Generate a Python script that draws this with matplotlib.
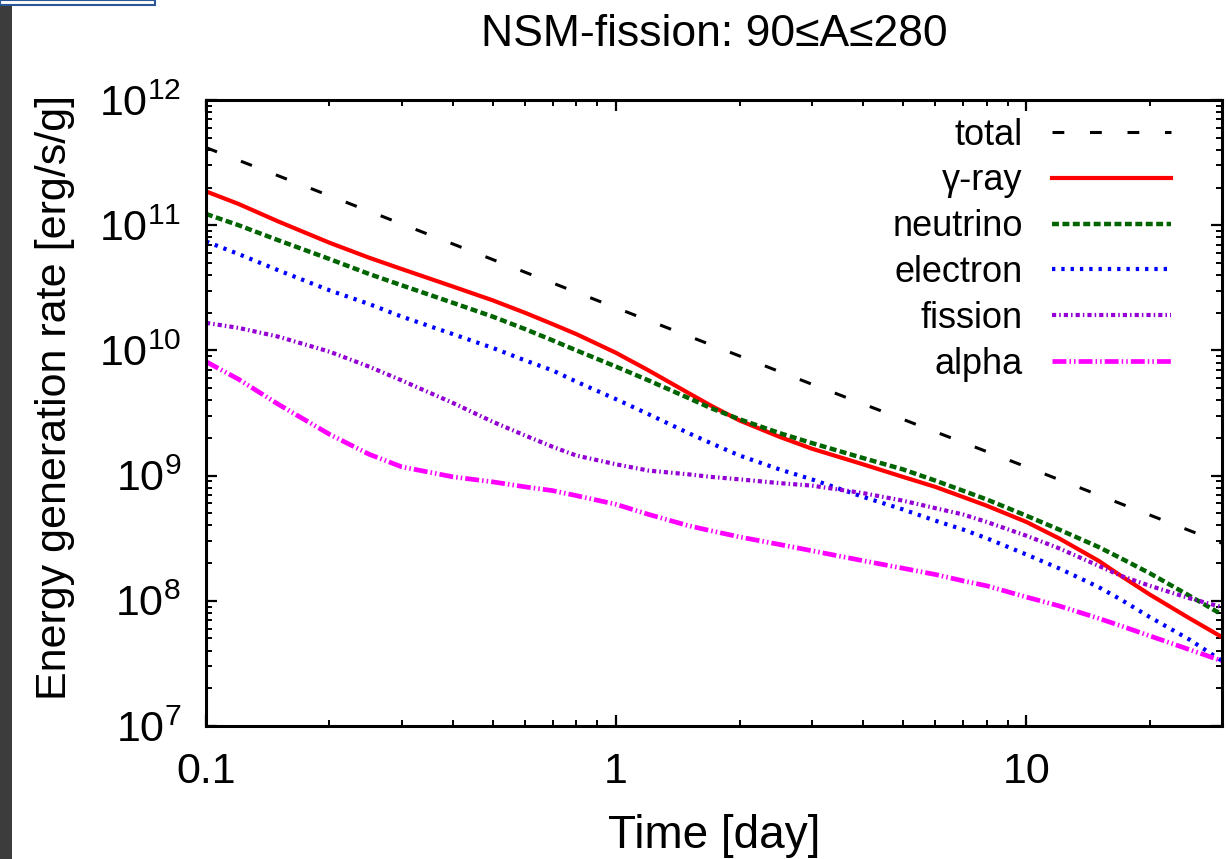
import matplotlib
matplotlib.use("Agg")
import matplotlib.pyplot as plt
from matplotlib.patches import Rectangle

plt.rcParams['font.family'] = ['Liberation Sans', 'DejaVu Sans']
plt.rcParams['mathtext.fontset'] = 'custom'
plt.rcParams['mathtext.rm'] = 'Liberation Sans'
plt.rcParams['mathtext.it'] = 'Liberation Sans'
plt.rcParams['lines.scale_dashes'] = False

## data (time in days, log10 of rate in erg/s/g)
t_total = [0.1, 0.3, 1, 3, 10, 30]
total_log = [11.62, 11.01, 10.34, 9.73, 9.07, 8.46]

t = [0.1, 0.12, 0.15, 0.2, 0.25, 0.3, 0.4, 0.5, 0.6, 0.7, 0.8, 1, 1.2, 1.5, 1.7,
     2, 2.5, 3, 4, 5, 6, 7, 8, 10, 12, 15, 17, 20, 25, 30]
gamma_log = [11.27, 11.17, 11.03, 10.86, 10.74, 10.65, 10.51, 10.40, 10.30, 10.21, 10.13,
             9.98, 9.84, 9.66, 9.56, 9.44, 9.31, 9.215, 9.09, 8.99, 8.91, 8.83, 8.76,
             8.63, 8.50, 8.32, 8.20, 8.05, 7.86, 7.71]
neutrino_log = [11.09, 11.00, 10.88, 10.73, 10.61, 10.52, 10.38, 10.27, 10.17, 10.08, 10.00,
                9.87, 9.76, 9.62, 9.54, 9.45, 9.34, 9.26, 9.14, 9.05, 8.96, 8.88, 8.81,
                8.68, 8.57, 8.43, 8.34, 8.22, 8.04, 7.89]
electron_log = [10.87, 10.77, 10.64, 10.48, 10.37, 10.27, 10.13, 10.02, 9.92, 9.84, 9.75,
                9.61, 9.49, 9.34, 9.26, 9.16, 9.05, 8.97, 8.83, 8.73, 8.64, 8.57, 8.50,
                8.37, 8.26, 8.11, 8.01, 7.87, 7.69, 7.52]
fission_log = [10.22, 10.18, 10.11, 9.99, 9.87, 9.76, 9.58, 9.43, 9.32, 9.23, 9.16,
               9.09, 9.04, 9.01, 8.99, 8.97, 8.94, 8.92, 8.86, 8.80, 8.74, 8.69, 8.63,
               8.52, 8.42, 8.28, 8.20, 8.12, 8.02, 7.95]
alpha_log = [9.91, 9.77, 9.57, 9.33, 9.17, 9.07, 8.99, 8.95, 8.91, 8.88, 8.84,
             8.77, 8.69, 8.60, 8.56, 8.51, 8.45, 8.40, 8.32, 8.26, 8.21, 8.16, 8.12,
             8.03, 7.96, 7.86, 7.80, 7.72, 7.61, 7.52]

W, H = 1228, 859
fig = plt.figure(figsize=(W / 100, H / 100), dpi=100)
ax = fig.add_axes([206 / W, 1 - 726 / H, (1222 - 206) / W, (726 - 100) / H])

def rate(vals):
    return [10 ** v for v in vals]

## curves
ax.plot(t_total, rate(total_log), color='black', lw=2.2, dashes=(8.5, 18.5), label='total')
ax.plot(t, rate(gamma_log), color='#ff0000', lw=3.0, label='γ-ray')
ax.plot(t, rate(neutrino_log), color='#006400', lw=3.2, dashes=(5, 2.5), label='neutrino')
ax.plot(t, rate(electron_log), color='#0000ff', lw=3.0, dashes=(2.4, 4.3), label='electron')
ax.plot(t, rate(fission_log), color='#9400d3', lw=3.0, dashes=(3.0, 2.2, 1.1, 2.2), label='fission')
ax.plot(t, rate(alpha_log), color='#ff00ff', lw=3.4, dashes=(10, 2.2, 1.1, 2.2, 1.1, 2.2), label='alpha')

ax.set_xscale('log')
ax.set_yscale('log')
ax.set_xlim(0.1, 30)
ax.set_ylim(1e7, 1e12)
ax.set_xticks([0.1, 1, 10], labels=['0.1', '1', '10'])
ax.set_yticks([1e7, 1e8, 1e9, 1e10, 1e11, 1e12],
              labels=['$10^{%d}$' % k for k in range(7, 13)])

ax.tick_params(which='both', direction='in', top=True, right=True, labelsize=31)
ax.tick_params(which='major', length=8, width=1.6)
ax.tick_params(which='minor', length=4.5, width=1.4)
ax.tick_params(axis='y', pad=18)
ax.tick_params(axis='x', pad=19)
for s in ax.spines.values():
    s.set_linewidth(2.2)

fig.text(714 / W, 1 - 35 / H, 'NSM-fission: 90≤A≤280', ha='center', va='center', fontsize=32)
fig.text(55 / W, 1 - 397 / H, 'Energy generation rate [erg/s/g]', rotation=90,
         ha='center', va='center', fontsize=31)
fig.text(714 / W, 1 - 836 / H, 'Time [day]', ha='center', va='center', fontsize=33)

leg = ax.legend(loc='upper right', bbox_to_anchor=((1171 - 206) / 1016, 0.972),
                frameon=False, markerfirst=False, fontsize=26, handlelength=3.3,
                handletextpad=0.8, labelspacing=0.3, borderpad=0, borderaxespad=0)
for txt in leg.get_texts():
    txt.set_ha('right')

## screenshot edges
fig.patches.append(Rectangle((0, 0), 12 / W, 1, transform=fig.transFigure,
                             facecolor='#3c3c3c', edgecolor='none', zorder=5))
fig.patches.append(Rectangle((0, 1 - 5 / H), 155 / W, 5 / H, transform=fig.transFigure,
                             facecolor='white', edgecolor='#2b5797', lw=1.5, zorder=6))

fig.savefig('out.png', dpi=100)
